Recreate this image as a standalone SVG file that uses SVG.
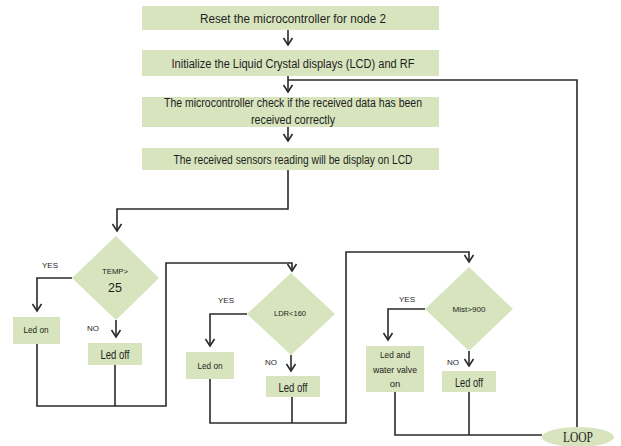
<svg xmlns="http://www.w3.org/2000/svg" width="621" height="446" viewBox="0 0 621 446">
<defs>
<style>
.box{fill:#d7e4bd;stroke:none}
.ln{fill:none;stroke:#2a2a2a;stroke-width:1.6}
.t{font-family:"Liberation Sans",Arial,sans-serif;fill:#1e1e1e;text-anchor:middle}
.s{font-size:12.5px}
.m{font-size:9.5px}
.xs{font-size:8px}
.loop{font-family:"Liberation Serif","Times New Roman",serif;font-size:14px;fill:#1e1e1e;text-anchor:middle}
</style>
<marker id="ah" viewBox="-9 -6 11 12" refX="0" refY="0" markerWidth="11" markerHeight="12" markerUnits="userSpaceOnUse" orient="auto">
<path d="M-7,-4.5 L0,0 L-7,4.5" fill="none" stroke="#2a2a2a" stroke-width="1.6"/>
</marker>
</defs>
<rect width="621" height="446" fill="#ffffff"/>
<g id="connectors">
<path class="ln" d="M288,30 V45" marker-end="url(#ah)"/>
<path class="ln" d="M288,76 V92" marker-end="url(#ah)"/>
<path class="ln" d="M288,127 V141" marker-end="url(#ah)"/>
<path class="ln" d="M288,170 V209 H117 V231" marker-end="url(#ah)"/>
<path class="ln" d="M72,278 H37 V311" marker-end="url(#ah)"/>
<path class="ln" d="M116,320 V337" marker-end="url(#ah)"/>
<path class="ln" d="M37,344 V406 H166 V263 H292 V271" marker-end="url(#ah)"/>
<path class="ln" d="M115,365 V406"/>
<path class="ln" d="M247,314 H210 V346" marker-end="url(#ah)"/>
<path class="ln" d="M291,355 V371" marker-end="url(#ah)"/>
<path class="ln" d="M210,379 V423 H346 V252 H469 V262" marker-end="url(#ah)"/>
<path class="ln" d="M292,397 V423"/>
<path class="ln" d="M425,309 H388 V340" marker-end="url(#ah)"/>
<path class="ln" d="M469,351 V366" marker-end="url(#ah)"/>
<path class="ln" d="M395,392 V435 H542"/>
<path class="ln" d="M469,392 V435"/>
<path class="ln" d="M577,427 V80 H288"/>
</g>
<g id="reset">
<rect class="box" x="142" y="6" width="297" height="24"/>
<text class="t s" x="293" y="22.5" textLength="186" lengthAdjust="spacingAndGlyphs">Reset the microcontroller for node 2</text>
</g>
<g id="init">
<rect class="box" x="142" y="50" width="297" height="26"/>
<text class="t s" x="293" y="67.5" textLength="243" lengthAdjust="spacingAndGlyphs">Initialize the Liquid Crystal displays (LCD) and RF</text>
</g>
<g id="check">
<rect class="box" x="142" y="97" width="297" height="30"/>
<text class="t s" x="293" y="106.5" textLength="258" lengthAdjust="spacingAndGlyphs">The microcontroller check if the received data has been</text>
<text class="t s" x="293" y="123.5" textLength="84" lengthAdjust="spacingAndGlyphs">received correctly</text>
</g>
<g id="display">
<rect class="box" x="142" y="148" width="297" height="22"/>
<text class="t s" x="293" y="163.5" textLength="239" lengthAdjust="spacingAndGlyphs">The received sensors reading will be display on LCD</text>
</g>
<g id="temp">
<polygon class="box" points="116,236 159,278 116,320 72,278"/>
<text class="t xs" x="115" y="274" textLength="26" lengthAdjust="spacingAndGlyphs">TEMP&gt;</text>
<text class="t s" x="115" y="292">25</text>
<text class="t xs" x="50" y="268">YES</text>
<text class="t xs" x="93" y="331">NO</text>
</g>
<g id="ledon1">
<rect class="box" x="13" y="317" width="47" height="27"/>
<text class="t m" x="36" y="333" textLength="25" lengthAdjust="spacingAndGlyphs">Led on</text>
</g>
<g id="ledoff1">
<rect class="box" x="88" y="343" width="54" height="22"/>
<text class="t s" x="115" y="358.5" textLength="29" lengthAdjust="spacingAndGlyphs">Led off</text>
</g>
<g id="ldr">
<polygon class="box" points="291,273 335,314 291,355 247,314"/>
<text class="t xs" x="290" y="316" textLength="32" lengthAdjust="spacingAndGlyphs">LDR&lt;160</text>
<text class="t xs" x="226" y="303">YES</text>
<text class="t xs" x="271" y="365">NO</text>
</g>
<g id="ledon2">
<rect class="box" x="186" y="352" width="48" height="27"/>
<text class="t m" x="210" y="369" textLength="25" lengthAdjust="spacingAndGlyphs">Led on</text>
</g>
<g id="ledoff2">
<rect class="box" x="266" y="376" width="54" height="21"/>
<text class="t s" x="293" y="391.5" textLength="29" lengthAdjust="spacingAndGlyphs">Led off</text>
</g>
<g id="mist">
<polygon class="box" points="469,267 513,309 469,351 425,309"/>
<text class="t xs" x="469" y="312" textLength="33" lengthAdjust="spacingAndGlyphs">Mist&gt;900</text>
<text class="t xs" x="407" y="302">YES</text>
<text class="t xs" x="453" y="365">NO</text>
</g>
<g id="valve">
<rect class="box" x="366" y="346" width="58" height="46"/>
<text class="t m" x="395" y="358" textLength="30" lengthAdjust="spacingAndGlyphs">Led and</text>
<text class="t m" x="395" y="373" textLength="44" lengthAdjust="spacingAndGlyphs">water valve</text>
<text class="t m" x="395" y="387">on</text>
</g>
<g id="ledoff3">
<rect class="box" x="442" y="371" width="54" height="21"/>
<text class="t s" x="469" y="386.5" textLength="28" lengthAdjust="spacingAndGlyphs">Led off</text>
</g>
<g id="loop">
<ellipse class="box" cx="578" cy="437" rx="36" ry="10"/>
<text class="loop" x="578" y="442" textLength="30" lengthAdjust="spacingAndGlyphs">LOOP</text>
</g>
</svg>
